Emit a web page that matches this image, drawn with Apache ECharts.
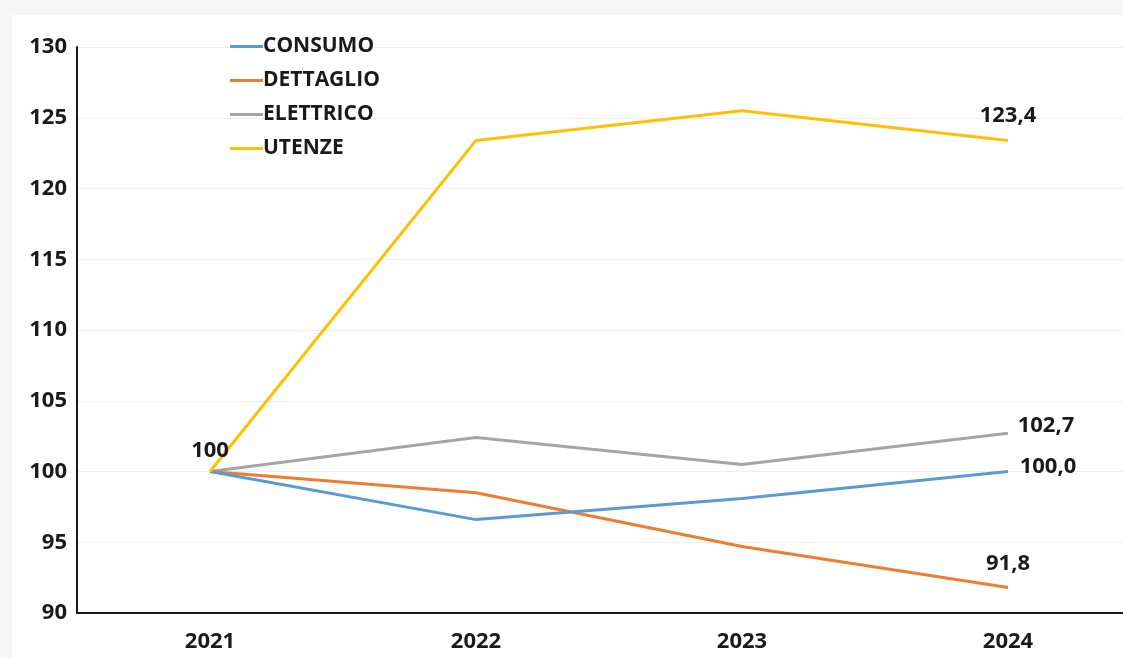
<!DOCTYPE html>
<html>
<head>
<meta charset="utf-8">
<script src="https://cdn.jsdelivr.net/npm/echarts@6/dist/echarts.min.js"></script>
<style>
  html, body { margin: 0; padding: 0; background: #f6f6f6; }
  #main { width: 1123px; height: 658px; }
</style>
</head>
<body>
<div id="main"></div>
<script>
var years = ["2021", "2022", "2023", "2024"];
var consumo = [100, 96.6, 98.1, 100.0];
var dettaglio = [100, 98.5, 94.7, 91.8];
var elettrico = [100, 102.4, 100.5, 102.7];
var utenze = [100, 123.4, 125.5, 123.4];
var yTicks = [90, 95, 100, 105, 110, 115, 120, 125, 130];

var fontFam = "'Open Sans', 'Liberation Sans', sans-serif";
var chart = echarts.init(document.getElementById("main"));

function fmt(v) {
  return v.toFixed(1).replace(".", ",");
}

// only the last point carries a label, positioned like the original
function withLabel(values, lastOffset, firstLabel) {
  return values.map(function (v, i) {
    var item = { value: v };
    if (i === values.length - 1) {
      item.label = {
        show: true,
        position: "top",
        offset: lastOffset,
        formatter: function (p) { return fmt(p.value); },
      };
    }
    if (i === 0 && firstLabel) {
      item.label = firstLabel;
    }
    return item;
  });
}

var labelStyle = {
  show: false,
  color: "#1a1a1a",
  fontSize: 22,
  fontWeight: "bold",
  fontFamily: fontFam,
};

var option = {
  backgroundColor: "#f6f6f6",
  graphic: [
    {
      type: "rect",
      z: -10,
      shape: { x: 12, y: 15, width: 1111, height: 643 },
      style: { fill: "#ffffff" },
    },
  ],
  legend: {
    orient: "vertical",
    left: 225,
    top: 31,
    itemGap: 13,
    itemWidth: 33,
    itemHeight: 3,
    icon: "rect",
    textStyle: {
      color: "#1a1a1a",
      fontSize: 21,
      fontWeight: "bold",
      fontFamily: fontFam,
      padding: [0, 0, 0, -5],
    },
    data: ["CONSUMO", "DETTAGLIO", "ELETTRICO", "UTENZE"],
  },
  grid: {
    left: 77,
    top: 47,
    width: 1064,
    bottom: 45,
    outerBoundsMode: "none",
    containLabel: false,
  },
  xAxis: {
    type: "category",
    data: years,
    boundaryGap: true,
    axisLine: { lineStyle: { color: "#1a1a1a", width: 2 } },
    axisTick: { show: false },
    axisLabel: {
      color: "#1a1a1a",
      fontSize: 22,
      fontWeight: "bold",
      fontFamily: fontFam,
      margin: 18,
    },
  },
  yAxis: {
    type: "value",
    min: yTicks[0],
    max: yTicks[yTicks.length - 1],
    interval: 5,
    axisLine: { show: true, lineStyle: { color: "#1a1a1a", width: 2 } },
    axisTick: { show: false },
    splitLine: { lineStyle: { color: "#eeeeee", width: 1 } },
    axisLabel: {
      color: "#1a1a1a",
      fontSize: 22,
      fontWeight: "bold",
      fontFamily: fontFam,
      margin: 10,
    },
  },
  series: [
    {
      name: "CONSUMO",
      type: "line",
      data: withLabel(consumo, [40, 11]),
      color: "#5b9bd5",
      lineStyle: { width: 3 },
      symbol: "circle",
      symbolSize: 0,
      label: labelStyle,
      z: 4,
    },
    {
      name: "DETTAGLIO",
      type: "line",
      data: withLabel(dettaglio, [0, -8]),
      color: "#ed7d31",
      lineStyle: { width: 3 },
      symbol: "circle",
      symbolSize: 0,
      label: labelStyle,
      z: 3,
    },
    {
      name: "ELETTRICO",
      type: "line",
      data: withLabel(elettrico, [38, 8]),
      color: "#a5a5a5",
      lineStyle: { width: 3 },
      symbol: "circle",
      symbolSize: 0,
      label: labelStyle,
      z: 2,
    },
    {
      name: "UTENZE",
      type: "line",
      data: withLabel(utenze, [0, -9], {
        show: true,
        position: "top",
        offset: [0, -5],
        formatter: "100",
      }),
      color: "#ffc000",
      lineStyle: { width: 3 },
      symbol: "circle",
      symbolSize: 0,
      label: labelStyle,
      z: 5,
    },
  ],
};

chart.setOption(option);
</script>
</body>
</html>
